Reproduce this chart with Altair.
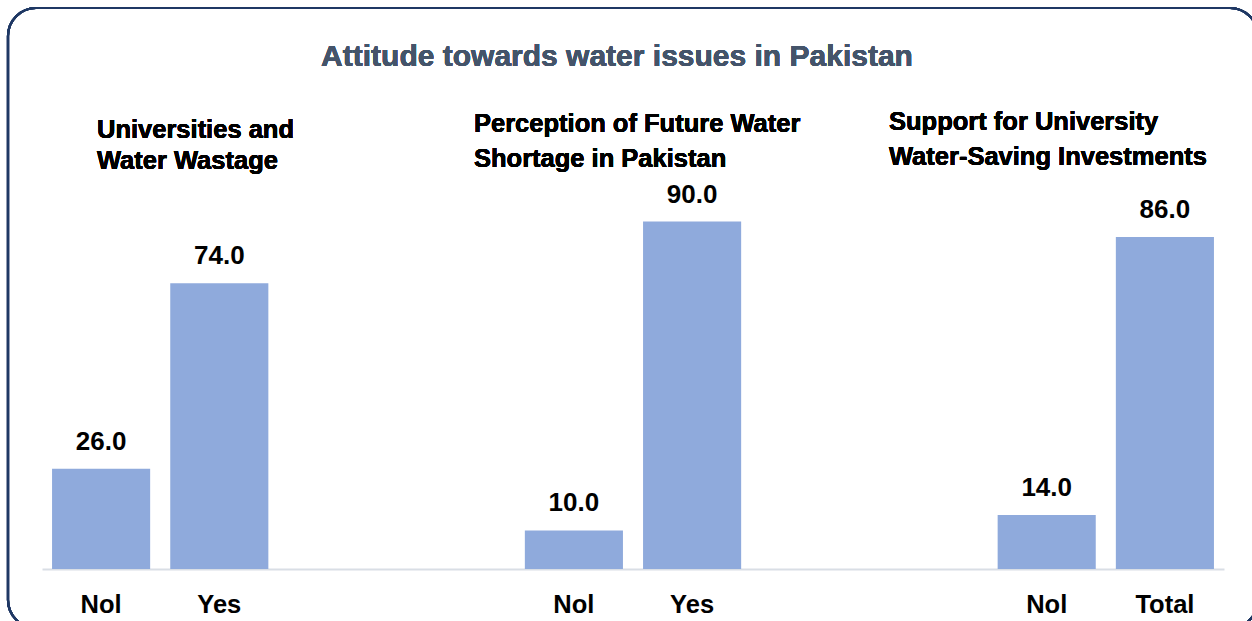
import altair as alt
import pandas as pd

# Chart content
chart_title = "Attitude towards water issues in Pakistan"
panel_titles = [
    ["Universities and", "Water Wastage"],
    ["Perception of Future Water", "Shortage in Pakistan"],
    ["Support for University", "Water-Saving Investments"],
]
# x slots: "<panel>:<label>", blank-label slots separate the three panels
slots = ["1:Nol", "1:Yes", "g1:", "g2:", "2:Nol", "2:Yes", "g3:", "g4:", "3:Nol", "3:Total"]
bar_slots = ["1:Nol", "1:Yes", "2:Nol", "2:Yes", "3:Nol", "3:Total"]
values = [26.0, 74.0, 10.0, 90.0, 14.0, 86.0]

df = pd.DataFrame({"slot": bar_slots, "value": values})

FONT = "Liberation Sans"
BAR = "#8FAADC"
PLOT_W, PLOT_H = 1182, 386
LEFT, TOP = 42, 183

x = alt.X(
    "slot:N",
    scale=alt.Scale(domain=slots, paddingInner=0.17, paddingOuter=0.085),
    sort=slots,
    axis=alt.Axis(
        title=None,
        labelExpr="split(datum.value, ':')[1]",
        labelAngle=0,
        labelFont=FONT,
        labelFontSize=25.5,
        labelFontWeight="bold",
        labelColor="#000000",
        labelPadding=23,
        ticks=False,
        tickSize=0,
        domainColor="#D9DEE5",
        domainWidth=2,
        grid=False,
    ),
)
y = alt.Y("value:Q", scale=alt.Scale(domain=[0, 100]), axis=None)

base = alt.Chart(df)
bars = base.mark_bar(color=BAR).encode(x=x, y=y)
labels = base.mark_text(
    font=FONT, fontSize=26, fontWeight="bold", color="#000000",
    baseline="alphabetic", dy=-19,
).encode(x=x, y=y, text=alt.Text("value:Q", format=".1f"))

# Rounded frame around the whole figure
frame = alt.Chart(df).mark_rect(
    fill="transparent", stroke="#1F3864", strokeWidth=2.2, cornerRadius=28
).encode(
    x=alt.value(8 - LEFT), x2=alt.value(1258 - LEFT),
    y=alt.value(8 - TOP), y2=alt.value(628 - TOP),
)

title_mark = alt.Chart(df).mark_text(
    text=chart_title, font=FONT, fontSize=30, fontWeight="bold",
    color="#44546A", align="center", baseline="middle",
).encode(x=alt.value(617 - LEFT), y=alt.value(57 - TOP))

# Panel headings: left edge and line centres in page pixels
heading_pos = [(97, 130, 161), (474, 124, 159), (889, 122, 157)]
headings = []
for (hx, y1, y2), lines in zip(heading_pos, panel_titles):
    for yy, line in zip((y1, y2), lines):
        headings.append(
            alt.Chart(df).mark_text(
                text=line, font=FONT, fontSize=25.5, fontWeight="bold",
                color="#000000", align="left", baseline="middle",
            ).encode(x=alt.value(hx - LEFT), y=alt.value(yy - TOP))
        )

chart = alt.layer(frame, bars, labels, title_mark, *headings).properties(
    width=PLOT_W,
    height=PLOT_H,
    padding={"left": LEFT, "top": TOP, "right": 1252 - LEFT - PLOT_W, "bottom": 621 - TOP - PLOT_H},
    autosize=alt.AutoSizeParams(type="none"),
).configure(
    background="#FFFFFF",
).configure_view(strokeWidth=0)

chart.save("out.html", embed_options={"renderer": "svg", "actions": False})
